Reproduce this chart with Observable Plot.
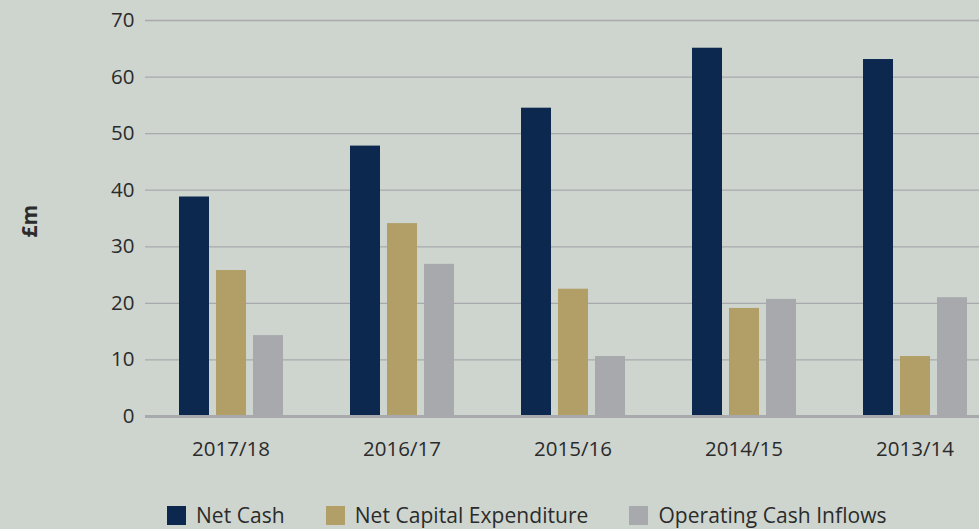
<!DOCTYPE html>
<html>
<head>
<meta charset="utf-8">
<script src="https://cdn.jsdelivr.net/npm/d3@7"></script>
<script src="https://cdn.jsdelivr.net/npm/@observablehq/plot@0.6"></script>
<style>
  html, body { margin: 0; padding: 0; background: #ced5cf; overflow: hidden; }
  #wrap { width: 979px; height: 529px; overflow: hidden; position: relative; background: #ced5cf; font-family: "Open Sans", sans-serif; color: #2b2b2b; }
  #chart svg { display: block; max-width: none !important; }
  #legend { display: flex; align-items: center; padding-left: 167px; margin-top: 31px; font-size: 21px; letter-spacing: 0.05px; }
  #legend .item { display: flex; align-items: center; margin-right: 41px; }
  #legend .sw { width: 19px; height: 19px; margin-right: 10px; }
</style>
</head>
<body>
<div id="wrap">
  <div id="chart"></div>
  <div id="legend"></div>
</div>
<script>
const years = ["2017/18", "2016/17", "2015/16", "2014/15", "2013/14"];
const series = ["Net Cash", "Net Capital Expenditure", "Operating Cash Inflows"];
const colors = ["#0c284f", "#b29f68", "#a8a9ad"];
const netCash = [38.8, 47.8, 54.5, 65.1, 63.1];
const netCapex = [25.8, 34.1, 22.5, 19.1, 10.6];
const opInflows = [14.3, 26.9, 10.6, 20.7, 21.0];
const yTicks = [0, 10, 20, 30, 40, 50, 60, 70];

const values = [netCash, netCapex, opInflows];
const data = [];
years.forEach((yr, i) => {
  series.forEach((s, j) => data.push({year: yr, series: s, value: values[j][i]}));
});

const chart = Plot.plot({
  width: 1002,
  height: 470,
  marginLeft: 143,
  marginRight: 0,
  marginTop: 20,
  marginBottom: 54,
  style: {background: "transparent", fontFamily: "Open Sans", fontSize: "20.5px", color: "#2b2b2b", maxWidth: "none"},
  fx: {domain: years, padding: 0, label: null},
  x: {domain: series, paddingInner: 0.2, paddingOuter: 0.893, axis: null},
  y: {domain: [0, 70], ticks: yTicks, label: null},
  color: {domain: series, range: colors},
  marks: [
    Plot.ruleY(yTicks.filter(d => d > 0), {stroke: "#a7a9ac", strokeWidth: 1.3}),
    Plot.barY(data, {fx: "year", x: "series", y: "value", fill: "series"}),
    Plot.ruleY([0], {stroke: "#a7a9ac", strokeWidth: 3}),
    Plot.axisY({ticks: yTicks, tickSize: 0, tickPadding: 11, label: null, fill: "#2b2b2b"}),
    Plot.axisFx({anchor: "bottom", tickSize: 0, tickPadding: 25, label: null, fill: "#2b2b2b"}),
    Plot.text([{fx: years[0], t: "£m"}], {fx: "fx", text: "t", frameAnchor: "left", rotate: -90, dx: -115, dy: 19, fontWeight: "bold", fontSize: 21, fill: "#2b2b2b"})
  ]
});
document.getElementById("chart").appendChild(chart);

const legend = document.getElementById("legend");
series.forEach((s, j) => {
  const item = document.createElement("div");
  item.className = "item";
  const sw = document.createElement("span");
  sw.className = "sw";
  sw.style.background = colors[j];
  const label = document.createElement("span");
  label.textContent = s;
  item.appendChild(sw);
  item.appendChild(label);
  legend.appendChild(item);
});
</script>
</body>
</html>
